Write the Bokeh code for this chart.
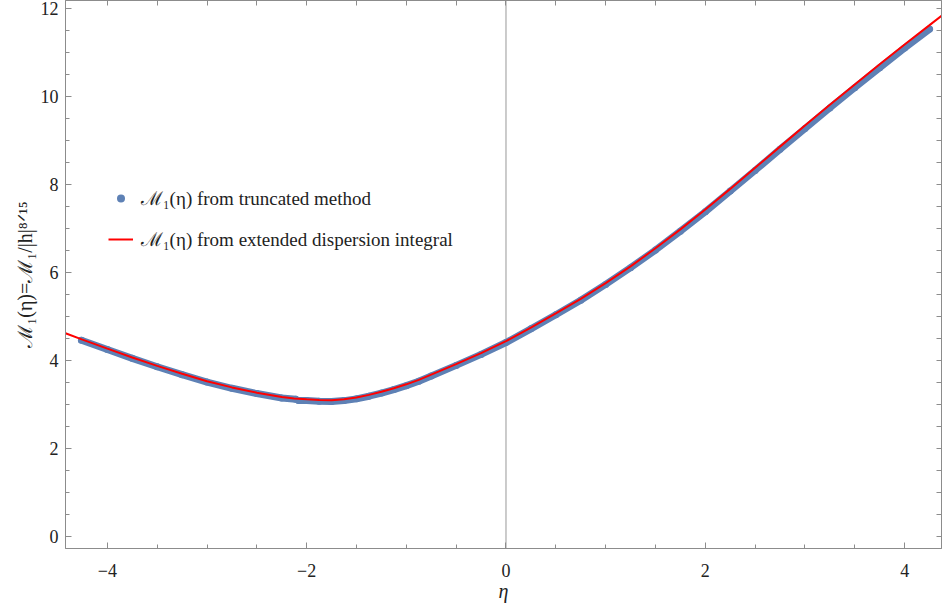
from bokeh.plotting import figure
from bokeh.models import (Span, Legend, LegendItem, LinearAxis, SingleIntervalTicker,
                          FixedTicker, Range1d)
from bokeh.embed import file_html
from bokeh.resources import INLINE

# extended dispersion integral (red curve)
eta_ext = [-4.42, -4.25, -4.0, -3.75, -3.5, -3.25, -3.0, -2.75, -2.5, -2.25,
           -2.125, -2.0, -1.875, -1.75, -1.625, -1.5, -1.375, -1.25, -1.125, -1.0,
           -0.875, -0.75, -0.5, -0.25, 0.0, 0.25, 0.5, 0.75, 1.0, 1.25,
           1.5, 1.75, 2.0, 2.25, 2.5, 2.75, 3.0, 3.25, 3.5, 3.75,
           4.0, 4.25, 4.38]
m_ext = [4.62, 4.475, 4.27, 4.07, 3.88, 3.70, 3.53, 3.39, 3.27, 3.17,
         3.14, 3.12, 3.105, 3.10, 3.12, 3.16, 3.22, 3.29, 3.37, 3.46,
         3.56, 3.68, 3.92, 4.17, 4.44, 4.75, 5.07, 5.40, 5.76, 6.14,
         6.55, 6.98, 7.43, 7.90, 8.38, 8.86, 9.34, 9.81, 10.27, 10.73,
         11.18, 11.62, 11.85]

# truncated method (blue points), two pieces
eta_trunc_a = [-4.26, -4.0, -3.75, -3.5, -3.25, -3.0, -2.75, -2.5, -2.25, -2.11]
m_trunc_a = [4.46, 4.25, 4.05, 3.86, 3.68, 3.51, 3.37, 3.25, 3.15, 3.12]
eta_trunc_b = [-2.08, -2.0, -1.875, -1.75, -1.625, -1.5, -1.375, -1.25, -1.125, -1.0,
               -0.875, -0.75, -0.5, -0.25, 0.0, 0.25, 0.5, 0.75, 1.0, 1.25,
               1.5, 1.75, 2.0, 2.25, 2.5, 2.75, 3.0, 3.25, 3.5, 3.75,
               4.0, 4.25]
m_trunc_b = [3.09, 3.09, 3.075, 3.07, 3.09, 3.13, 3.19, 3.26, 3.34, 3.43,
             3.53, 3.65, 3.89, 4.14, 4.41, 4.72, 5.04, 5.37, 5.73, 6.11,
             6.51, 6.94, 7.38, 7.85, 8.32, 8.80, 9.27, 9.74, 10.20, 10.65,
             11.10, 11.53]

x_ticks = [-4, -2, 0, 2, 4]
frame_ticks_x = [-4.0, -3.5, -3.0, -2.5, -2.0, -1.5, -1.0, -0.5, 0.0,
                 0.5, 1.0, 1.5, 2.0, 2.5, 3.0, 3.5, 4.0]
frame_ticks_y = [0.0, 0.5, 1.0, 1.5, 2.0, 2.5, 3.0, 3.5, 4.0, 4.5, 5.0, 5.5, 6.0,
                 6.5, 7.0, 7.5, 8.0, 8.5, 9.0, 9.5, 10.0, 10.5, 11.0, 11.5, 12.0]

FONT = "Liberation Serif"
BLUE = "#5E81B5"
FRAME = "#8c8c8c"

p = figure(width=942, height=609, output_backend="svg", toolbar_location=None,
           x_range=Range1d(-4.42, 4.37), y_range=Range1d(-0.27, 12.18),
           min_border_left=65, min_border_right=1, min_border_top=0,
           min_border_bottom=61)
p.grid.visible = False
p.outline_line_color = FRAME
p.background_fill_color = "white"
p.border_fill_color = "white"

def style_axis(ax):
    ax.axis_line_color = FRAME
    ax.major_tick_line_color = FRAME
    ax.minor_tick_line_color = FRAME
    ax.major_tick_in = 6
    ax.major_tick_out = 0
    ax.minor_tick_in = 4
    ax.minor_tick_out = 0
    ax.major_label_text_font = FONT
    ax.major_label_text_font_size = "18px"
    ax.major_label_text_color = "#222222"
    ax.axis_label_text_font = FONT
    ax.axis_label_text_font_size = "20px"
    ax.axis_label_text_font_style = "normal"
    ax.axis_label_text_color = "#222222"

xa = p.xaxis[0]
style_axis(xa)
xa.ticker = SingleIntervalTicker(interval=2, num_minor_ticks=4)
xa.major_label_overrides = {t: (("\u2212" + str(abs(t))) if t < 0 else str(t)) for t in x_ticks}
xa.major_label_standoff = 15
xa.axis_label = "η"
xa.axis_label_text_font_style = "italic"
xa.axis_label_standoff = 0

ya = p.yaxis[0]
style_axis(ya)
ya.ticker = SingleIntervalTicker(interval=2, num_minor_ticks=4)
ya.major_label_standoff = 7
ya.axis_label = "ℳ₁(η)=ℳ₁/|h|⁸ᐟ¹⁵"
ya.axis_label_standoff = 2

# frame ticks on top and right (no labels)
top = LinearAxis(ticker=FixedTicker(ticks=[], minor_ticks=frame_ticks_x))
style_axis(top)
top.minor_tick_in = 5
p.add_layout(top, "above")
right = LinearAxis(ticker=FixedTicker(ticks=[], minor_ticks=frame_ticks_y))
style_axis(right)
right.minor_tick_in = 5
p.add_layout(right, "right")

p.add_layout(Span(location=0, dimension="height", line_color="#999999",
                  line_width=1, level="underlay"))

# blue truncated-method points (dense band)
p.line(eta_trunc_a, m_trunc_a, line_color=BLUE, line_width=7, line_cap="round",
       line_join="round")
p.line(eta_trunc_b, m_trunc_b, line_color=BLUE, line_width=7, line_cap="round",
       line_join="round")
pts = p.scatter(eta_trunc_a + eta_trunc_b, m_trunc_a + m_trunc_b, size=7,
                fill_color=BLUE, line_color=None)

red = p.line(eta_ext, m_ext, line_color="#ff0000", line_width=2)

legend = Legend(items=[
    LegendItem(label="ℳ₁(η) from truncated method", renderers=[pts]),
    LegendItem(label="ℳ₁(η) from extended dispersion integral", renderers=[red]),
], location=(43, 296))
legend.border_line_color = None
legend.background_fill_alpha = 0
legend.margin = 0
legend.padding = 0
legend.spacing = 15
legend.glyph_width = 25
legend.glyph_height = 20
legend.label_height = 20
legend.label_standoff = 8
legend.label_text_font = FONT
legend.label_text_font_size = "19px"
legend.label_text_color = "#222222"
p.add_layout(legend)

open("out.html", "w").write(file_html(p, INLINE))
